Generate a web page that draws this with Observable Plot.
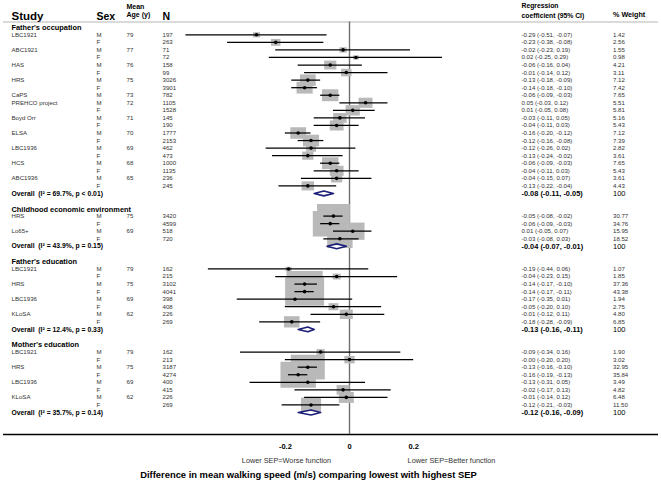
<!DOCTYPE html>
<html>
<head>
<meta charset="utf-8">
<script src="https://cdn.jsdelivr.net/npm/d3@7"></script>
<script src="https://cdn.jsdelivr.net/npm/@observablehq/plot@0.6"></script>
<style>
html, body { margin: 0; padding: 0; background: #fff; }
#chart svg { display: block; }
</style>
</head>
<body>
<div id="chart"></div>
<script>
// ---------------- DATA ----------------
const groupNames = ["Father's occupation", "Childhood economic environment", "Father's education", "Mother's education"];
const groupI2 = ["69.7%", "43.9%", "12.4%", "35.7%"];
const groupP = ["p < 0.01", "p = 0.15", "p = 0.33", "p = 0.14"];
const overallEst = [-0.08, -0.04, -0.13, -0.12];
const overallLo = [-0.11, -0.07, -0.16, -0.16];
const overallHi = [-0.05, -0.01, -0.11, -0.09];
const overallWeight = ["100", "100", "100", "100"];

const rowGroup = [
  0,0,0,0,0,0,0,0,0,0,0,0,0,0,0,0,0,0,0,0,0,
  1,1,1,1,
  2,2,2,2,2,2,2,2,
  3,3,3,3,3,3,3,3
];
const rowStudy = [
  "LBC1921","","ABC1921","","HAS","","HRS","","CaPS","PREHCO project","","Boyd Orr","","ELSA","","LBC1936","","HCS","","ABC1936","",
  "HRS","","Lo65+","",
  "LBC1921","","HRS","","LBC1936","","KLoSA","",
  "LBC1921","","HRS","","LBC1936","","KLoSA",""
];
const rowSex = [
  "M","F","M","F","M","F","M","F","M","M","F","M","F","M","F","M","F","M","F","M","F",
  "M","F","M","F",
  "M","F","M","F","M","F","M","F",
  "M","F","M","F","M","F","M","F"
];
const rowAge = [
  "79","","77","","76","","75","","73","72","","71","","70","","69","","68","","65","",
  "75","","69","",
  "79","","75","","69","","62","",
  "79","","75","","69","","62",""
];
const rowN = [
  "197","263","71","72","158","99","3026","3901","782","1105","1528","145","190","1777","2153","462","473","1000","1135","236","245",
  "3420","4599","518","720",
  "162","215","3102","4041","398","408","226","269",
  "162","213","3187","4274","400","415","226","269"
];
const rowEst = [
  -0.29,-0.23,-0.02,0.02,-0.06,-0.01,-0.13,-0.14,-0.06,0.05,0.01,-0.03,-0.04,-0.16,-0.12,-0.12,-0.13,-0.06,-0.04,-0.04,-0.13,
  -0.05,-0.06,0.01,-0.03,
  -0.19,-0.04,-0.14,-0.14,-0.17,-0.05,-0.01,-0.18,
  -0.09,-0.00,-0.13,-0.16,-0.13,-0.02,-0.01,-0.12
];
const rowLo = [
  -0.51,-0.38,-0.23,-0.25,-0.16,-0.14,-0.18,-0.18,-0.09,-0.03,-0.05,-0.11,-0.11,-0.20,-0.16,-0.26,-0.24,-0.09,-0.11,-0.15,-0.22,
  -0.08,-0.09,-0.05,-0.08,
  -0.44,-0.23,-0.17,-0.17,-0.35,-0.20,-0.12,-0.28,
  -0.34,-0.20,-0.16,-0.19,-0.31,-0.17,-0.14,-0.21
];
const rowHi = [
  -0.07,-0.08,0.19,0.29,0.04,0.12,-0.09,-0.10,-0.03,0.12,0.08,0.05,0.03,-0.12,-0.08,0.02,-0.02,-0.03,0.03,0.07,-0.04,
  -0.02,-0.03,0.07,0.03,
  0.06,0.15,-0.10,-0.11,0.01,0.10,0.11,-0.09,
  0.16,0.20,-0.10,-0.13,0.05,0.13,0.12,-0.03
];
const rowWeight = [
  1.42,2.56,1.55,0.98,4.21,3.11,7.12,7.42,7.65,5.51,5.81,5.16,5.43,7.12,7.39,2.82,3.61,7.65,5.43,3.61,4.43,
  30.77,34.76,15.95,18.52,
  1.07,1.85,37.36,43.38,1.94,2.75,4.80,6.85,
  1.90,3.02,32.95,35.84,3.49,4.82,6.48,11.50
];

const xTicks = [-0.2, 0, 0.2];
const xTickLabels = ["-0.2", "0", "0.2"];
const headerStudy = "Study";
const headerSex = "Sex";
const headerAge = "Mean\nAge (y)";
const headerN = "N";
const headerCoef = "Regression\ncoefficient (95% CI)";
const headerWeight = "% Weight";
const directionLabels = ["Lower SEP=Worse function", "Lower SEP=Better function"];
const xTitle = "Difference in mean walking speed (m/s) comparing lowest with highest SEP";

// ---------------- LAYOUT ----------------
const W = 661, H = 481;
const L = { left: 3, right: 658, axis: 434, zero: 349, perUnit: 320.75, row0: 34.3, rowStep: 7.554, headerRule: 21.5 };
const COL = { study: 11, sex: 96, age: 126, n: 162, coef: 521, weight: 612.5 };
const FONT = "'Liberation Sans', Arial, Helvetica, sans-serif";
const TXT = "#333";
const SMALL = 6.1;
const DIAMOND_HALF = 0.32;
const BOX_ASPECT = 1.37;

// ---------------- BUILD TABLES ----------------
const fmt2 = v => (Object.is(v, -0) ? "-" : "") + v.toFixed(2);
const rows = [], overall = [], headers = [], diamondPts = [];
let r = 0, i = 0;
groupNames.forEach((name, g) => {
  headers.push({ name, row: r - 1 });
  while (i < rowGroup.length && rowGroup[i] === g) {
    rows.push({
      g, row: r, study: rowStudy[i], sex: rowSex[i], age: rowAge[i], n: rowN[i],
      est: rowEst[i], lo: rowLo[i], hi: rowHi[i], w: rowWeight[i],
      coef: `${fmt2(rowEst[i])} (${fmt2(rowLo[i])}, ${fmt2(rowHi[i])})`,
      wt: rowWeight[i].toFixed(2)
    });
    r++; i++;
  }
  overall.push({
    g, row: r,
    label: `Overall\u00a0 (I\u00b2 = ${groupI2[g]}, ${groupP[g]})`,
    coef: `${fmt2(overallEst[g])} (${fmt2(overallLo[g])}, ${fmt2(overallHi[g])})`,
    wt: overallWeight[g]
  });
  diamondPts.push(
    { g, x: overallLo[g], y: r },
    { g, x: overallEst[g], y: r - DIAMOND_HALF },
    { g, x: overallHi[g], y: r },
    { g, x: overallEst[g], y: r + DIAMOND_HALF }
  );
  r += 3;
});

const rectSymbol = {
  draw(ctx, size) {
    const w = Math.sqrt(size * BOX_ASPECT), h = w / BOX_ASPECT;
    ctx.rect(-w / 2, -h / 2, w, h);
  }
};

const colText = (data, key, x, opts = {}) =>
  Plot.text(data, {
    y: "row", text: key, frameAnchor: "left", dx: x - L.left, textAnchor: "start",
    fontSize: SMALL, fill: TXT, ...opts
  });

const topText = (label, x, yCenter, opts = {}) =>
  Plot.text([label], {
    text: d => d, frameAnchor: "top-left", dx: x - L.left, dy: yCenter, lineAnchor: "middle",
    textAnchor: "start", fill: "#000", fontWeight: "bold", ...opts
  });

const bottomText = (label, x, yCenter, opts = {}) =>
  Plot.text([label], {
    text: d => d, frameAnchor: "bottom-left", dx: x - L.left, dy: yCenter - L.axis, lineAnchor: "middle",
    textAnchor: "middle", ...opts
  });

const chart = Plot.plot({
  width: W, height: H,
  marginLeft: L.left, marginRight: W - L.right, marginTop: 0, marginBottom: H - L.axis,
  style: { fontFamily: FONT, background: "#fff", overflow: "visible" },
  x: { domain: [(L.left - L.zero) / L.perUnit, (L.right - L.zero) / L.perUnit], range: [L.left, L.right] },
  y: { domain: [-L.row0 / L.rowStep, (L.axis - L.row0) / L.rowStep], range: [0, L.axis], axis: null },
  r: { type: "sqrt", domain: [0, 100], range: [0, 28.53] },
  marks: [
    // header rule and axis line
    Plot.ruleY([0], { dy: L.headerRule - L.row0, stroke: "#b5b5b5", strokeWidth: 1 }),
    Plot.ruleY([0], { dy: L.axis - L.row0, stroke: "#000", strokeWidth: 1.3 }),
    // null line
    Plot.ruleX([0], { insetTop: L.headerRule, stroke: "#707070", strokeWidth: 1.4 }),
    // weight boxes
    Plot.dot(rows, { x: "est", y: "row", r: "w", symbol: rectSymbol, fill: "#b9b9b9", stroke: "none" }),
    // CIs and point estimates
    Plot.ruleY(rows, { y: "row", x1: "lo", x2: "hi", stroke: "#000", strokeWidth: 1.25 }),
    Plot.dot(rows, { x: "est", y: "row", r: 1.8, fill: "#000", stroke: "none" }),
    // pooled diamonds
    Plot.line(diamondPts, { x: "x", y: "y", z: "g", curve: "linear-closed", stroke: "#1b1f78", strokeWidth: 1.6, fill: "#fff" }),
    // x axis
    Plot.axisX({ ticks: xTicks, tickSize: 0, tickPadding: 9, tickFormat: d => xTickLabels[xTicks.indexOf(d)],
      fontSize: 7.5, fontWeight: "bold", fill: "#000", label: null }),
    // column headers
    topText(headerStudy, COL.study, 15.7, { fontSize: 11.5 }),
    topText(headerSex, COL.sex, 15.7, { fontSize: 10.5 }),
    topText(headerAge, COL.age, 9.85, { fontSize: 7, lineHeight: 1.19 }),
    topText(headerN, COL.n, 15.7, { fontSize: 10.5 }),
    topText(headerCoef, COL.coef, 9.65, { fontSize: 6.8, lineHeight: 1.37 }),
    topText(headerWeight, COL.weight, 14.3, { fontSize: 7.2 }),
    // group headers
    colText(headers, "name", COL.study, { fontSize: 7.4, fontWeight: "bold", fill: "#000", dy: 0.6 }),
    // study rows
    colText(rows, "study", COL.study),
    colText(rows, "sex", COL.sex),
    colText(rows, "age", COL.age),
    colText(rows, "n", COL.n),
    colText(rows, "coef", COL.coef),
    colText(rows, "wt", COL.weight),
    // overall rows
    colText(overall, "label", COL.study, { fontSize: 6.8, fontWeight: "bold", fill: "#000" }),
    colText(overall, "coef", COL.coef, { fontSize: 7.4, fontWeight: "bold", fill: "#000" }),
    colText(overall, "wt", COL.weight, { fontSize: 7.5, fill: "#000" }),
    // direction labels and title
    bottomText(directionLabels[0], 286, 460, { fontSize: 7.3, fill: TXT }),
    bottomText(directionLabels[1], 451, 460, { fontSize: 7.3, fill: TXT }),
    bottomText(xTitle, 308, 474, { fontSize: 9.4, fontWeight: "bold", fill: "#000" })
  ]
});
document.getElementById("chart").appendChild(chart);
</script>
</body>
</html>
